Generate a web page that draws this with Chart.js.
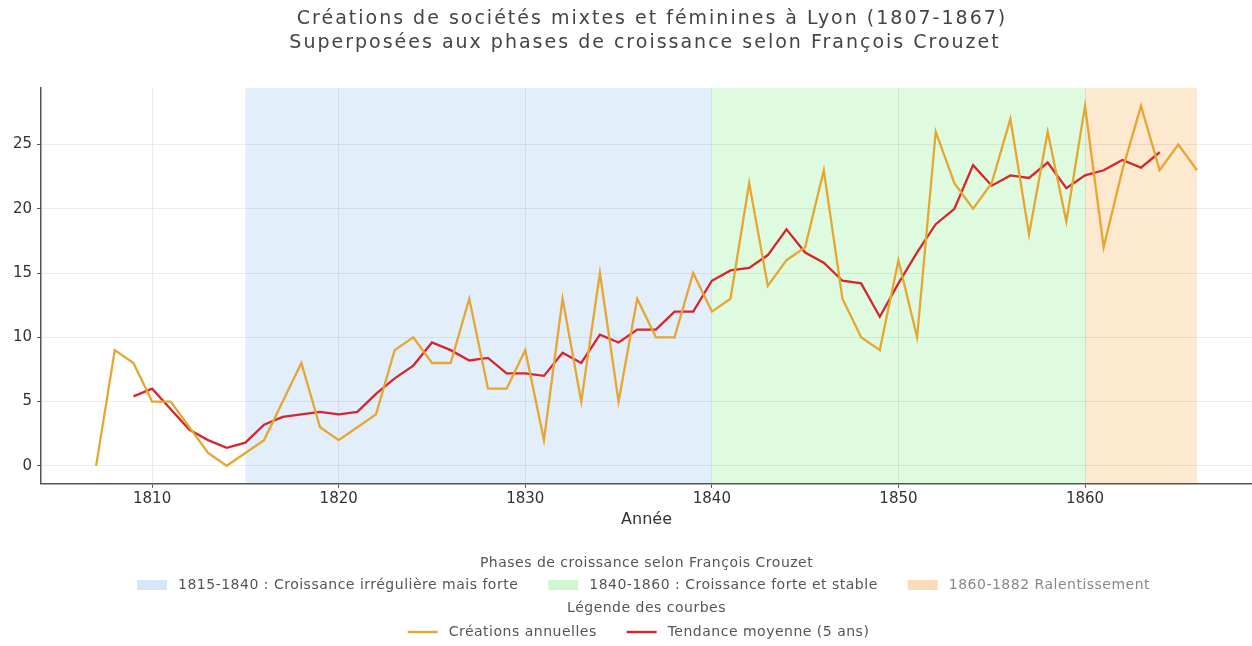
<!DOCTYPE html>
<html lang="fr">
<head>
<meta charset="utf-8">
<script src="https://cdn.jsdelivr.net/npm/chart.js@4"></script>
<style>
  html, body { margin: 0; padding: 0; background: #fff; }
  #wrap { width: 1252px; height: 646px; }
</style>
</head>
<body>
<div id="wrap"><canvas id="chart" width="1252" height="646"></canvas></div>
<script>
// --- données ---
const years = [
  1807, 1808, 1809, 1810, 1811, 1812, 1813, 1814, 1815, 1816,
  1817, 1818, 1819, 1820, 1821, 1822, 1823, 1824, 1825, 1826,
  1827, 1828, 1829, 1830, 1831, 1832, 1833, 1834, 1835, 1836,
  1837, 1838, 1839, 1840, 1841, 1842, 1843, 1844, 1845, 1846,
  1847, 1848, 1849, 1850, 1851, 1852, 1853, 1854, 1855, 1856,
  1857, 1858, 1859, 1860, 1861, 1862, 1863, 1864, 1865, 1866
];
const creations = [
  0, 9, 8, 5, 5, 3, 1, 0, 1, 2,
  5, 8, 3, 2, 3, 4, 9, 10, 8, 8,
  13, 6, 6, 9, 2, 13, 5, 15, 5, 13,
  10, 10, 15, 12, 13, 22, 14, 16, 17, 23,
  13, 10, 9, 16, 10, 26, 22, 20, 22, 27,
  18, 26, 19, 28, 17, 23, 28, 23, 25, 23
];
const tendance = [
  null, null, 5.4, 6.0, 4.4, 2.8, 2.0, 1.4, 1.8, 3.2,
  3.8, 4.0, 4.2, 4.0, 4.2, 5.6, 6.8, 7.8, 9.6, 9.0,
  8.2, 8.4, 7.2, 7.2, 7.0, 8.8, 8.0, 10.2, 9.6, 10.6,
  10.6, 12.0, 12.0, 14.4, 15.2, 15.4, 16.4, 18.4, 16.6, 15.8,
  14.4, 14.2, 11.6, 14.2, 16.6, 18.8, 20.0, 23.4, 21.8, 22.6,
  22.4, 23.6, 21.6, 22.6, 23.0, 23.8, 23.2, 24.4, null, null
];

const xTicks = [1810, 1820, 1830, 1840, 1850, 1860];
const yTicks = [0, 5, 10, 15, 20, 25];

// phases de Crouzet
const phaseStart = [1815, 1840, 1860];
const phaseEnd = [1840, 1860, 1866];
const phaseLabels = [
  '1815-1840 : Croissance irrégulière mais forte',
  '1840-1860 : Croissance forte et stable',
  '1860-1882 Ralentissement'
];
const phaseColors = ['#e3eefb', '#dffbdf', '#fde8d0'];
const phaseLegendColors = ['#d6e6f7', '#d2f5d2', '#fbdcb8'];
const phaseTextColors = ['#555', '#555', '#888'];

const seriesLabels = ['Créations annuelles', 'Tendance moyenne (5 ans)'];
const seriesColors = ['#e6a632', '#d7262b'];

const titleLines = [
  'Créations de sociétés mixtes et féminines à Lyon (1807-1867)',
  'Superposées aux phases de croissance selon François Crouzet'
];

// --- plugin : bandes de phases ---
const phasesPlugin = {
  id: 'phases',
  beforeDraw(chart) {
    const { ctx, chartArea, scales } = chart;
    ctx.save();
    for (let i = 0; i < phaseStart.length; i++) {
      const x0 = scales.x.getPixelForValue(phaseStart[i]);
      const x1 = scales.x.getPixelForValue(phaseEnd[i]);
      ctx.fillStyle = phaseColors[i];
      ctx.fillRect(x0, chartArea.top, x1 - x0, chartArea.bottom - chartArea.top);
    }
    ctx.restore();
  }
};

// --- légendes (style matplotlib) ---
const legendFont = '14px "DejaVu Sans"';
const legendSpacing = '0.5px';

function drawLegendRow(ctx, cx, y, items) {
  const handleW = 30, gapText = 11, gapItem = 30;
  ctx.font = legendFont;
  ctx.letterSpacing = legendSpacing;
  let total = 0;
  items.forEach((it, i) => {
    it.w = ctx.measureText(it.text).width;
    total += handleW + gapText + it.w + (i > 0 ? gapItem : 0);
  });
  let x = cx - total / 2;
  items.forEach((it, i) => {
    if (i > 0) x += gapItem;
    if (it.kind === 'patch') {
      ctx.fillStyle = it.color;
      ctx.fillRect(x, y - 5, handleW, 10);
    } else {
      ctx.strokeStyle = it.color;
      ctx.lineWidth = 2.4;
      ctx.beginPath();
      ctx.moveTo(x, y);
      ctx.lineTo(x + handleW, y);
      ctx.stroke();
    }
    x += handleW + gapText;
    ctx.fillStyle = it.textColor;
    ctx.textAlign = 'left';
    ctx.textBaseline = 'middle';
    ctx.fillText(it.text, x, y);
    x += it.w;
  });
}

const legendsPlugin = {
  id: 'legends',
  afterDraw(chart) {
    const { ctx, chartArea } = chart;
    const cx = (chartArea.left + chartArea.right) / 2;
    ctx.save();
    // titre
    ctx.font = '19px "DejaVu Sans"';
    ctx.letterSpacing = '2px';
    ctx.fillStyle = '#444';
    ctx.textAlign = 'center';
    ctx.textBaseline = 'middle';
    ctx.fillText(titleLines[0], 652, 19);
    ctx.fillText(titleLines[1], 645, 43);

    ctx.font = legendFont;
    ctx.letterSpacing = legendSpacing;
    ctx.fillStyle = '#555';
    ctx.fillText('Phases de croissance selon François Crouzet', cx, 563);
    drawLegendRow(ctx, cx - 3, 585, phaseLabels.map((t, i) => ({
      kind: 'patch', text: t, color: phaseLegendColors[i], textColor: phaseTextColors[i]
    })));
    ctx.font = legendFont;
    ctx.letterSpacing = legendSpacing;
    ctx.fillStyle = '#555';
    ctx.textAlign = 'center';
    ctx.fillText('Légende des courbes', cx, 608);
    drawLegendRow(ctx, cx - 8, 632, seriesLabels.map((t, i) => ({
      kind: 'line', text: t, color: seriesColors[i], textColor: '#555'
    })));
    ctx.restore();
  }
};

const ctx = document.getElementById('chart').getContext('2d');
new Chart(ctx, {
  type: 'line',
  data: {
    datasets: [
      {
        label: seriesLabels[0],
        data: years.map((y, i) => ({ x: y, y: creations[i] })),
        borderColor: seriesColors[0],
        borderWidth: 2.3,
        pointRadius: 0,
        tension: 0
      },
      {
        label: seriesLabels[1],
        data: years.map((y, i) => ({ x: y, y: tendance[i] })),
        borderColor: seriesColors[1],
        borderWidth: 2.3,
        pointRadius: 0,
        spanGaps: false,
        tension: 0
      }
    ]
  },
  options: {
    responsive: false,
    animation: false,
    layout: { padding: { left: 8, right: 0, top: 88, bottom: 117 } },
    plugins: {
      legend: { display: false },
      tooltip: { enabled: false },
      title: { display: false }
    },
    scales: {
      x: {
        type: 'linear',
        min: 1804.05,
        max: 1868.95,
        afterBuildTicks(scale) { scale.ticks = xTicks.map(v => ({ value: v })); },
        ticks: {
          color: '#333',
          font: { family: '"DejaVu Sans"', size: 15 },
          padding: 2,
          maxRotation: 0,
          callback: v => String(v)
        },
        grid: { color: 'rgba(0,0,0,0.07)', tickColor: '#555', tickLength: 4 },
        border: { color: '#555', width: 1.5 },
        title: {
          display: true,
          text: 'Année',
          color: '#333',
          font: { family: '"DejaVu Sans"', size: 16 },
          padding: { top: 0, bottom: 0 }
        }
      },
      y: {
        min: -1.4,
        max: 29.4,
        afterBuildTicks(scale) { scale.ticks = yTicks.map(v => ({ value: v })); },
        ticks: {
          color: '#333',
          font: { family: '"DejaVu Sans"', size: 15 },
          padding: 5
        },
        grid: { color: 'rgba(0,0,0,0.07)', tickColor: '#555', tickLength: 4 },
        border: { color: '#555', width: 1.5 }
      }
    }
  },
  plugins: [phasesPlugin, legendsPlugin]
});
</script>
</body>
</html>
